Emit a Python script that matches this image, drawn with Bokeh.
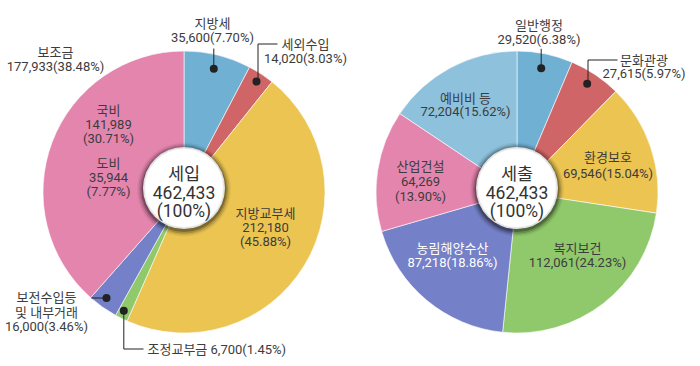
import numpy as np
from bokeh.plotting import figure
from bokeh.models import Range1d
from bokeh.core.properties import value
from bokeh.embed import file_html
from bokeh.resources import INLINE

# ---- data ----
rev_names = ["지방세", "세외수입", "지방교부세", "조정교부금", "보전수입등 및 내부거래", "보조금"]
rev_values = [35600, 14020, 212180, 6700, 16000, 177933]
rev_pcts = [7.70, 3.03, 45.88, 1.45, 3.46, 38.48]
rev_colors = ["#70b0d3", "#cf6566", "#ebc452", "#90c96b", "#7480c7", "#e485ae"]
sub_names = ["국비", "도비"]
sub_values = [141989, 35944]
sub_pcts = [30.71, 7.77]

exp_names = ["일반행정", "문화관광", "환경보호", "복지보건", "농림해양수산", "산업건설", "예비비 등"]
exp_values = [29520, 27615, 69546, 112061, 87218, 64269, 72204]
exp_pcts = [6.38, 5.97, 15.04, 24.23, 18.86, 13.90, 15.62]
exp_colors = ["#70b0d3", "#cf6566", "#ebc452", "#90c96b", "#7480c7", "#e485ae", "#8ec1dc"]

total = 462433
rev_title = "세입"
exp_title = "세출"

FONT = "Roboto, 'Noto Sans CJK KR'"
TXT = "#3c3c3c"
W, H = 692, 358

p = figure(width=W, height=H, output_backend="svg", toolbar_location=None,
           x_range=Range1d(0, W), y_range=Range1d(366 - H, 366), min_border=0)
p.axis.visible = False
p.grid.visible = False
p.outline_line_color = None
p.background_fill_color = "white"
p.border_fill_color = "white"


def sy(y):  # screen y -> data y
    return 366 - y


R = 141


def pie(cx, cy, vals, colors):
    v = np.array(vals, dtype=float)
    frac = v / v.sum()
    cum = np.concatenate([[0], np.cumsum(frac)])
    starts = np.pi / 2 - 2 * np.pi * cum[:-1]
    ends = np.pi / 2 - 2 * np.pi * cum[1:]
    p.wedge(x=[cx] * len(v), y=[cy] * len(v), radius=R, start_angle=list(starts),
            end_angle=list(ends), direction="clock", fill_color=colors,
            line_color="white", line_width=0.6)


def center(cx, cy, title):
    ccy = cy + 4
    for r, a in [(47, 0.05), (45.5, 0.1), (44, 0.16), (42.5, 0.25)]:
        p.circle(x=[cx], y=[ccy - 1.5], radius=r, fill_color="black", fill_alpha=a, line_color=None)
    p.circle(x=[cx], y=[ccy], radius=41, fill_color="white", line_color=None)
    for r, a in [(40.5, 0.10), (39.5, 0.05)]:
        p.circle(x=[cx], y=[ccy], radius=r, fill_color=None, line_color="black",
                 line_alpha=a, line_width=1.5)
    lines = [title, f"{total:,}", "(100%)"]
    ys = [173.3, 192, 210]
    p.text(x=[cx] * 3, y=[sy(v) for v in ys], text=lines, text_align="center",
           text_baseline="middle", text_font=value(FONT), text_font_size="17.5px",
           text_color="#333333")


def label(x, y, lines, color=TXT, align="center", size="13px", step=14.2):
    n = len(lines)
    p.text(x=[x] * n, y=[sy(y + i * step) for i in range(n)], text=lines,
           text_align=align, text_baseline="middle", text_font=value(FONT),
           text_font_size=size, text_color=color)


def fmt(v, pct):
    return f"{v:,}({pct:.2f}%)"


def dot(x, y):
    p.scatter(x=[x], y=[sy(y)], size=8, marker="circle", fill_color="#222222", line_color=None)


def leader(xs, ys):
    p.line(x=xs, y=[sy(v) for v in ys], line_color="#222222", line_width=1)


# ---- left pie ----
LCX, RCX, CY = 183.5, 516.5, sy(191.5)
pie(LCX, CY, rev_values, rev_colors)
center(LCX, CY, rev_title)

label(212, 22.5, [rev_names[0], fmt(rev_values[0], rev_pcts[0])])
leader([213.3, 213.3], [68.3, 48])
dot(213.3, 68.3)

label(305, 44, [rev_names[1], fmt(rev_values[1], rev_pcts[1])])
leader([256, 257.5, 257.5, 277], [81, 81, 43.5, 43.5])
dot(256, 81)

label(265, 213, [rev_names[2], f"{rev_values[2]:,}", f"({rev_pcts[2]:.2f}%)"])

label(147, 348.5, [f"{rev_names[3]} {rev_values[3]:,}({rev_pcts[3]:.2f}%)"], align="left")
leader([123.3, 123.3, 143], [310.3, 348.5, 348.5])
dot(123.3, 310.3)

label(46, 297, ["보전수입등", "및 내부거래", fmt(rev_values[4], rev_pcts[4])], step=14.5)
leader([91, 106], [297.5, 297.5])
dot(106, 297.5)

label(55, 51.5, [rev_names[5], fmt(rev_values[5], rev_pcts[5])])

label(108, 110, [sub_names[0], f"{sub_values[0]:,}", f"({sub_pcts[0]:.2f}%)"])
label(108, 163, [sub_names[1], f"{sub_values[1]:,}", f"({sub_pcts[1]:.2f}%)"])

# ---- right pie ----
pie(RCX, CY, exp_values, exp_colors)
center(RCX, CY, exp_title)

label(538.5, 25, [exp_names[0], fmt(exp_values[0], exp_pcts[0])])
leader([540.7, 540.7], [67.7, 48.3])
dot(540.7, 67.7)

label(643.5, 59.5, [exp_names[1], fmt(exp_values[1], exp_pcts[1])], step=13)
leader([586.7, 587.5, 587.5, 617], [83.3, 83.3, 59.5, 59.5])
dot(586.7, 83.3)

label(607.5, 157, [exp_names[2], fmt(exp_values[2], exp_pcts[2])], step=16)
label(577, 248, [exp_names[3], fmt(exp_values[3], exp_pcts[3])])
label(452, 248, [exp_names[4], fmt(exp_values[4], exp_pcts[4])], color="white")
label(420, 165.5, [exp_names[5], f"{exp_values[5]:,}", f"({exp_pcts[5]:.2f}%)"], step=15)
label(465, 97.5, [exp_names[6], fmt(exp_values[6], exp_pcts[6])], step=13.5)

open("out.html", "w").write(file_html(p, INLINE))
